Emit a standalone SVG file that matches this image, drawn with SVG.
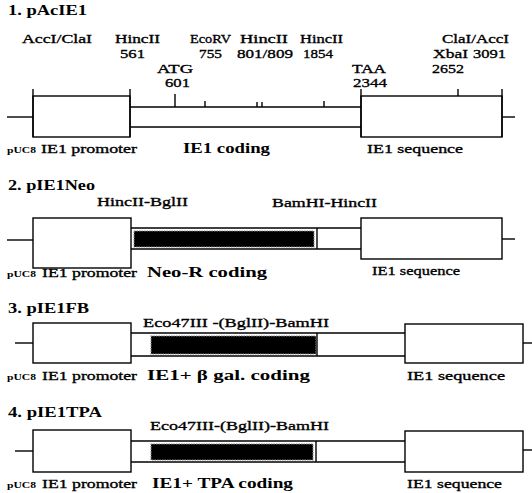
<svg xmlns="http://www.w3.org/2000/svg" width="532" height="493" viewBox="0 0 532 493">
<style>
text{font-family:"Liberation Serif","Times New Roman",serif;fill:#000}
.t{font-size:14px;font-weight:bold}
.s{font-size:13.5px;stroke:#000;stroke-width:0.35}
.b{font-size:14px;font-weight:bold}
.u{font-size:8.5px;font-weight:bold}
.ln{stroke:#000;stroke-width:1.4;fill:none}
.bx{stroke:#000;stroke-width:1.4;fill:#fff}
.blk{fill:#000;stroke:#888;stroke-width:1.2;stroke-dasharray:1.5 1}
</style>
<rect width="532" height="493" fill="#fff"/>

<!-- Panel 1 -->
<g id="p1">
<text class="t" x="8" y="15" textLength="79" lengthAdjust="spacingAndGlyphs">1. pAcIE1</text>
<text class="s" x="22" y="43" textLength="70" lengthAdjust="spacingAndGlyphs">AccI/ClaI</text>
<text class="s" x="115" y="43" textLength="45" lengthAdjust="spacingAndGlyphs">HincII</text>
<text class="s" x="120" y="58" textLength="25" lengthAdjust="spacingAndGlyphs">561</text>
<text class="s" x="190" y="43" textLength="41" lengthAdjust="spacingAndGlyphs">EcoRV</text>
<text class="s" x="199" y="58" textLength="23" lengthAdjust="spacingAndGlyphs">755</text>
<text class="s" x="240" y="43" textLength="48" lengthAdjust="spacingAndGlyphs">HincII</text>
<text class="s" x="237" y="58" textLength="56" lengthAdjust="spacingAndGlyphs">801/809</text>
<text class="s" x="300" y="43" textLength="43" lengthAdjust="spacingAndGlyphs">HincII</text>
<text class="s" x="303" y="58" textLength="30" lengthAdjust="spacingAndGlyphs">1854</text>
<text class="s" x="157" y="73" textLength="36" lengthAdjust="spacingAndGlyphs">ATG</text>
<text class="s" x="165" y="87" textLength="25" lengthAdjust="spacingAndGlyphs">601</text>
<text class="s" x="352" y="73" textLength="34" lengthAdjust="spacingAndGlyphs">TAA</text>
<text class="s" x="353" y="87" textLength="34" lengthAdjust="spacingAndGlyphs">2344</text>
<text class="s" x="442" y="43" textLength="67" lengthAdjust="spacingAndGlyphs">ClaI/AccI</text>
<text class="s" x="433" y="58" textLength="35" lengthAdjust="spacingAndGlyphs">XbaI</text>
<text class="s" x="473" y="58" textLength="33" lengthAdjust="spacingAndGlyphs">3091</text>
<text class="s" x="432" y="73" textLength="32" lengthAdjust="spacingAndGlyphs">2652</text>
<line class="ln" x1="7" y1="117" x2="33" y2="117"/>
<rect class="bx" x="33" y="96" width="97" height="41"/>
<line class="ln" x1="33" y1="89" x2="33" y2="137"/>
<line class="ln" x1="130" y1="89" x2="130" y2="137"/>
<line class="ln" x1="130" y1="107" x2="361" y2="107"/>
<line class="ln" x1="130" y1="127" x2="361" y2="127"/>
<line class="ln" x1="175" y1="94" x2="175" y2="107"/>
<line class="ln" x1="205" y1="101" x2="205" y2="107"/>
<line class="ln" x1="257" y1="102" x2="257" y2="107"/>
<line class="ln" x1="262" y1="102" x2="262" y2="107"/>
<line class="ln" x1="324" y1="101" x2="324" y2="107"/>
<rect class="bx" x="361" y="96" width="141" height="41"/>
<line class="ln" x1="361" y1="89" x2="361" y2="137"/>
<line class="ln" x1="502" y1="89" x2="502" y2="137"/>
<line class="ln" x1="458" y1="89" x2="458" y2="96"/>
<line class="ln" x1="502" y1="117" x2="515" y2="117"/>
<text class="u" x="7" y="153" textLength="29" lengthAdjust="spacingAndGlyphs">pUC8</text>
<text class="s" x="41" y="153" textLength="96" lengthAdjust="spacingAndGlyphs">IE1 promoter</text>
<text class="b" x="183" y="153" textLength="87" lengthAdjust="spacingAndGlyphs">IE1 coding</text>
<text class="s" x="367" y="153" textLength="96" lengthAdjust="spacingAndGlyphs">IE1 sequence</text>
</g>

<!-- Panel 2 -->
<g id="p2">
<text class="t" x="8" y="190" textLength="87" lengthAdjust="spacingAndGlyphs">2. pIE1Neo</text>
<text class="s" x="97" y="206" textLength="91" lengthAdjust="spacingAndGlyphs">HincII-BglII</text>
<text class="s" x="272" y="207" textLength="105" lengthAdjust="spacingAndGlyphs">BamHI-HincII</text>
<line class="ln" x1="7" y1="240" x2="33" y2="240"/>
<rect class="bx" x="33" y="218" width="98" height="50"/>
<line class="ln" x1="131" y1="228" x2="361" y2="228"/>
<line class="ln" x1="131" y1="249" x2="361" y2="249"/>
<rect class="blk" x="134" y="231" width="180" height="16"/>
<line class="ln" x1="317" y1="228" x2="317" y2="249"/>
<rect class="bx" x="361" y="218" width="141" height="41"/>
<line class="ln" x1="502" y1="239" x2="515" y2="239"/>
<text class="u" x="7" y="277" textLength="29" lengthAdjust="spacingAndGlyphs">pUC8</text>
<text class="s" x="42" y="277" textLength="95" lengthAdjust="spacingAndGlyphs">IE1 promoter</text>
<text class="b" x="147" y="277" textLength="120" lengthAdjust="spacingAndGlyphs">Neo-R coding</text>
<text class="s" x="372" y="275" textLength="88" lengthAdjust="spacingAndGlyphs">IE1 sequence</text>
</g>

<!-- Panel 3 -->
<g id="p3">
<text class="t" x="8" y="313" textLength="81" lengthAdjust="spacingAndGlyphs">3. pIE1FB</text>
<text class="s" x="143" y="327" textLength="186" lengthAdjust="spacingAndGlyphs">Eco47III -(BglII)-BamHI</text>
<line class="ln" x1="15" y1="343" x2="33" y2="343"/>
<rect class="bx" x="33" y="323" width="98" height="40"/>
<line class="ln" x1="131" y1="333" x2="405" y2="333"/>
<line class="ln" x1="131" y1="356" x2="405" y2="356"/>
<rect class="blk" x="151" y="336" width="165" height="18"/>
<line class="ln" x1="317" y1="333" x2="317" y2="356"/>
<rect class="bx" x="405" y="324" width="118" height="39"/>
<line class="ln" x1="523" y1="343" x2="532" y2="343"/>
<text class="u" x="7" y="380" textLength="29" lengthAdjust="spacingAndGlyphs">pUC8</text>
<text class="s" x="42" y="380" textLength="95" lengthAdjust="spacingAndGlyphs">IE1 promoter</text>
<text class="b" x="147" y="380" textLength="163" lengthAdjust="spacingAndGlyphs">IE1+ β gal. coding</text>
<text class="s" x="407" y="380" textLength="98" lengthAdjust="spacingAndGlyphs">IE1 sequence</text>
</g>

<!-- Panel 4 -->
<g id="p4">
<text class="t" x="8" y="417" textLength="94" lengthAdjust="spacingAndGlyphs">4. pIE1TPA</text>
<text class="s" x="150" y="430" textLength="179" lengthAdjust="spacingAndGlyphs">Eco47III-(BglII)-BamHI</text>
<line class="ln" x1="15" y1="451" x2="33" y2="451"/>
<rect class="bx" x="33" y="430" width="98" height="42"/>
<line class="ln" x1="131" y1="441" x2="405" y2="441"/>
<line class="ln" x1="131" y1="462" x2="405" y2="462"/>
<rect class="blk" x="151" y="444" width="162" height="16"/>
<line class="ln" x1="316" y1="441" x2="316" y2="462"/>
<rect class="bx" x="405" y="431" width="118" height="41"/>
<line class="ln" x1="523" y1="450" x2="532" y2="450"/>
<text class="u" x="7" y="488" textLength="29" lengthAdjust="spacingAndGlyphs">pUC8</text>
<text class="s" x="42" y="488" textLength="95" lengthAdjust="spacingAndGlyphs">IE1 promoter</text>
<text class="b" x="152" y="488" textLength="141" lengthAdjust="spacingAndGlyphs">IE1+ TPA coding</text>
<text class="s" x="407" y="488" textLength="95" lengthAdjust="spacingAndGlyphs">IE1 sequence</text>
</g>
</svg>
